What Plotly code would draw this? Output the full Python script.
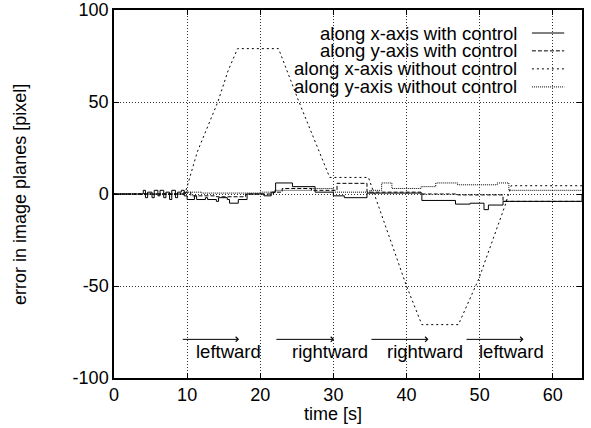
import plotly.graph_objects as go

# ---- data ----
t_xc = [0, 4.0, 4.3, 4.6, 5.2, 5.5, 6.0, 6.3, 6.8, 7.1, 7.6, 7.9, 8.4, 8.7, 9.2, 9.6,
        10.0, 11.0, 11.3, 12.5, 12.8, 14.0, 14.3, 15.5, 15.8, 17.0, 18.2, 20.5, 21.5,
        22.1, 24.4, 27.5, 30.0, 31.5, 34.6, 42.1, 46.7, 48.7, 50.6, 51.2, 53.2, 64]
v_xc = [0, 2, -2, 1, -2, 2, -1, 2, -2, 1, -3, 2, -2, 1, 2, -1,
        -3, -1, -3, -2, -3, -4, -2, -3, -5, -3, 0, -1, 1,
        6, 4, 1, -1, -2, 0.5, -3.5, -5.5, -5, -8.5, -6, -4, 0]

t_yc = [0, 9.8, 10.5, 14, 18, 21.8, 23, 27, 30.5, 34.6, 42, 47, 53.2, 64]
v_yc = [0, 1, -1, -1.5, 0, 1, 3, 2, 5.8, 1, 0, -0.5, -4, -4]

t_xn = [0, 9.7, 11.4, 14.2, 15.6, 16.9, 22.5, 25.3, 29.5, 34.8, 40, 42.1, 47.1,
        49.9, 53.5, 54.3, 64]
v_xn = [0, 0, 23, 50, 67, 79, 79, 50, 9, 9, -50, -71, -71, -46, -6, 4.5, 4.5]

t_yn = [0, 9.5, 12, 20, 22, 27, 30, 35, 36.6, 38, 42, 44, 47, 52.4, 54, 64]
v_yn = [0, 1, 0.5, 1, 2, 3, 1, 2, 6, 3, 4, 6, 5, 6, 2, 2]

x_tickvals = [0, 10, 20, 30, 40, 50, 60]
x_ticktext = ["0", "10", "20", "30", "40", "50", "60"]
y_tickvals = [-100, -50, 0, 50, 100]
y_ticktext = ["-100", "-50", "0", "50", "100"]

legend_labels = ["along x-axis with control", "along y-axis with control",
                 "along x-axis without control", "along y-axis without control"]

motion_labels = ["leftward", "rightward", "rightward", "leftward"]
motion_start = [9.2, 22.0, 35.0, 48.0]
motion_end = [17.1, 30.1, 43.0, 56.0]
motion_text_x = [10.9, 24.1, 37.0, 49.6]

FONT = "Liberation Sans, Arial, Helvetica, sans-serif"
FS = 18
dashes = ["solid", "4px,2px", "2px,3px", "1px,1px"]
shapes_line = ["hv", "hv", "linear", "hv"]

fig = go.Figure()
series = [(t_xc, v_xc), (t_yc, v_yc), (t_xn, v_xn), (t_yn, v_yn)]
for (t, v), name, d, sh in zip(series, legend_labels, dashes, shapes_line):
    fig.add_trace(go.Scatter(x=t, y=v, mode="lines", name=name,
                             line=dict(color="black", width=1, dash=d, shape=sh),
                             showlegend=False))

annotations = []
shapes = []
# manual gnuplot-style legend (text right, sample left)
leg_y = [0.9375, 0.889, 0.840, 0.791]
for lab, yy, d in zip(legend_labels, leg_y, dashes):
    annotations.append(dict(xref="paper", yref="paper", x=0.865, y=yy, text=lab,
                            showarrow=False, xanchor="right", yanchor="middle",
                            font=dict(family=FONT, size=18.5, color="black")))
    shapes.append(dict(type="line", xref="paper", yref="paper", x0=0.893, x1=0.962,
                       y0=yy, y1=yy, line=dict(color="black", width=1, dash=d)))

for lab, xs, xe, xt in zip(motion_labels, motion_start, motion_end, motion_text_x):
    annotations.append(dict(xref="x", yref="y", x=xe, y=-79, ax=xs, ay=-79,
                            axref="x", ayref="y", text="", showarrow=True,
                            arrowhead=4, arrowsize=1, arrowwidth=1, arrowcolor="black"))
    annotations.append(dict(xref="x", yref="y", x=xt, y=-85.5, text=lab,
                            showarrow=False, xanchor="left", yanchor="middle",
                            font=dict(family=FONT, size=18.5, color="black")))

# axis titles
annotations.append(dict(xref="paper", yref="paper", x=0.468, y=-0.098, text="time [s]",
                        showarrow=False, xanchor="center", yanchor="middle",
                        font=dict(family=FONT, size=FS, color="black")))
annotations.append(dict(xref="paper", yref="paper", x=-0.201, y=0.5,
                        text="error in image planes [pixel]", textangle=-90,
                        showarrow=False, xanchor="center", yanchor="middle",
                        font=dict(family=FONT, size=FS, color="black")))

axis_common = dict(showline=True, mirror="ticks", linecolor="black", linewidth=1.5,
                   ticks="inside", ticklen=5, tickcolor="black", automargin=False,
                   showgrid=True, gridcolor="#333", griddash="1px,2px", gridwidth=1,
                   zeroline=False, tickfont=dict(family=FONT, size=FS, color="black"))

fig.update_layout(
    width=591, height=428,
    margin=dict(l=114, r=9, t=10, b=50),
    paper_bgcolor="white", plot_bgcolor="white",
    font=dict(family=FONT, size=FS, color="black"),
    xaxis=dict(range=[0, 64], tickvals=x_tickvals, ticktext=x_ticktext, **axis_common),
    yaxis=dict(range=[-100, 100], tickvals=y_tickvals, ticktext=y_ticktext, **axis_common),
    annotations=annotations, shapes=shapes,
)

fig.write_html("out.html", config={"displayModeBar": False},
               post_script="document.body.style.margin='0';")
